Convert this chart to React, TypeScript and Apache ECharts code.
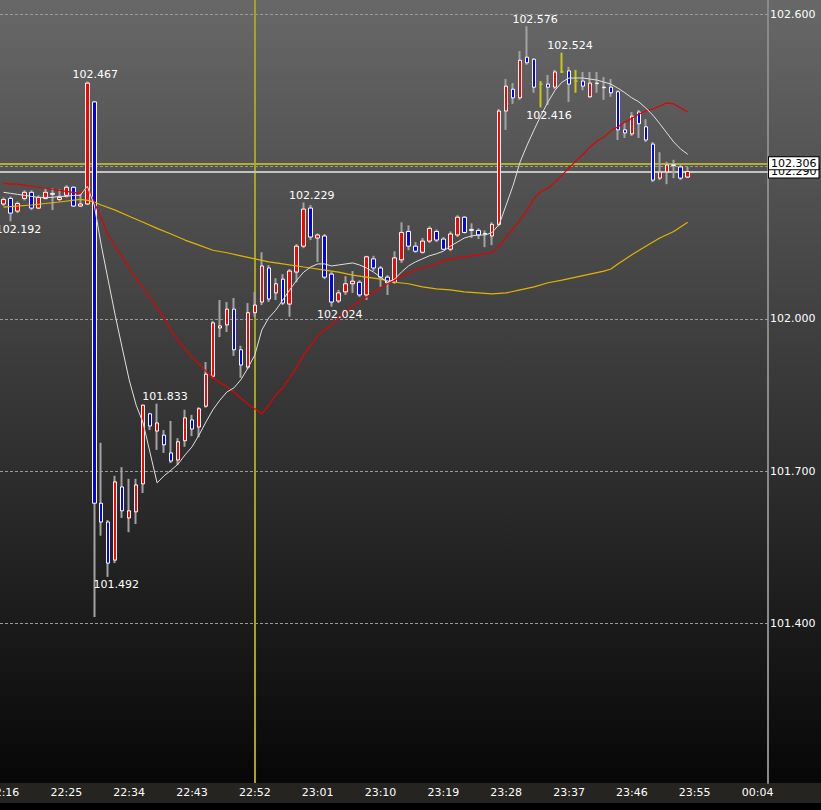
import React, { useEffect, useRef } from "react";
import * as echarts from "echarts";

// ---------- data ----------
const START_TIME = "22:16";
const CATEGORY_COUNT = 110;
const X_LABEL_STEP = 9;

const OPEN = [
  102.226, 102.237, 102.212, 102.237, 102.249, 102.218, 102.237, 102.247, 102.235, 102.243,
  102.259, 102.222, 102.226, 102.427, 101.637, 101.600, 101.525, 101.669, 101.608, 101.620,
  101.675, 101.813, 101.779, 101.771, 101.736, 101.722, 101.760, 101.801, 101.787, 101.828,
  101.887, 101.982, 101.988, 102.019, 101.939, 101.905, 102.012, 102.033, 102.100, 102.051,
  102.078, 102.029, 102.092, 102.143, 102.218, 102.159, 102.163, 102.088, 102.035, 102.053,
  102.069, 102.072, 102.047, 102.118, 102.100, 102.082, 102.072, 102.116, 102.172, 102.143,
  102.131, 102.153, 102.172, 102.157, 102.137, 102.165, 102.200, 102.176, 102.174, 102.168,
  102.163, 102.186, 102.409, 102.452, 102.435, 102.515, 102.511, 102.462, 102.462, 102.456,
  102.486, 102.488, 102.468, 102.468, 102.437, 102.464, 102.456, 102.456, 102.447, 102.372,
  102.364, 102.407, 102.378, 102.344, 102.277, 102.289, 102.303, 102.299, 102.279,
];
const CLOSE = [
  102.235, 102.208, 102.227, 102.249, 102.218, 102.239, 102.249, 102.245, 102.239, 102.259,
  102.222, 102.226, 102.464, 101.637, 101.600, 101.519, 101.679, 101.622, 101.622, 101.673,
  101.830, 101.789, 101.795, 101.752, 101.720, 101.758, 101.805, 101.783, 101.823, 101.891,
  101.992, 101.986, 102.019, 101.939, 101.909, 102.012, 102.027, 102.104, 102.039, 102.069,
  102.031, 102.094, 102.143, 102.216, 102.161, 102.165, 102.082, 102.033, 102.051, 102.069,
  102.074, 102.047, 102.122, 102.100, 102.082, 102.071, 102.120, 102.170, 102.143, 102.133,
  102.153, 102.178, 102.155, 102.137, 102.167, 102.200, 102.170, 102.174, 102.165, 102.167,
  102.186, 102.409, 102.458, 102.435, 102.509, 102.504, 102.456, 102.462, 102.456, 102.486,
  102.486, 102.462, 102.468, 102.458, 102.464, 102.463, 102.455, 102.445, 102.372, 102.366,
  102.399, 102.384, 102.352, 102.273, 102.289, 102.303, 102.302, 102.277, 102.290,
];
const LOW = [
  102.222, 102.192, 102.208, 102.233, 102.214, 102.216, 102.235, 102.214, 102.231, 102.239,
  102.220, 102.220, 102.224, 101.413, 101.573, 101.492, 101.519, 101.608, 101.580, 101.596,
  101.657, 101.781, 101.742, 101.736, 101.716, 101.712, 101.748, 101.769, 101.767, 101.825,
  101.884, 101.964, 101.974, 101.927, 101.884, 101.901, 102.004, 102.027, 102.033, 102.037,
  102.027, 102.004, 102.072, 102.139, 102.155, 102.112, 102.078, 102.024, 102.031, 102.047,
  102.051, 102.043, 102.037, 102.094, 102.063, 102.047, 102.069, 102.110, 102.135, 102.130,
  102.128, 102.149, 102.151, 102.135, 102.133, 102.161, 102.168, 102.159, 102.157, 102.141,
  102.145, 102.182, 102.372, 102.423, 102.431, 102.500, 102.445, 102.416, 102.421, 102.452,
  102.484, 102.427, 102.445, 102.450, 102.435, 102.445, 102.431, 102.437, 102.352, 102.356,
  102.360, 102.356, 102.348, 102.269, 102.273, 102.265, 102.277, 102.273, 102.277,
];
const HIGH = [
  102.239, 102.241, 102.231, 102.253, 102.253, 102.243, 102.257, 102.257, 102.255, 102.263,
  102.261, 102.247, 102.467, 102.429, 101.756, 101.604, 101.691, 101.708, 101.685, 101.685,
  101.831, 101.815, 101.833, 101.781, 101.799, 101.765, 101.821, 101.811, 101.826, 101.915,
  101.996, 102.037, 102.033, 102.041, 101.947, 102.031, 102.053, 102.131, 102.106, 102.080,
  102.088, 102.098, 102.147, 102.229, 102.224, 102.168, 102.167, 102.092, 102.057, 102.084,
  102.094, 102.076, 102.124, 102.124, 102.104, 102.086, 102.133, 102.190, 102.184, 102.151,
  102.159, 102.182, 102.176, 102.161, 102.172, 102.204, 102.202, 102.188, 102.178, 102.174,
  102.190, 102.413, 102.472, 102.464, 102.527, 102.576, 102.513, 102.468, 102.480, 102.490,
  102.524, 102.496, 102.490, 102.486, 102.486, 102.486, 102.476, 102.472, 102.450, 102.387,
  102.407, 102.411, 102.393, 102.348, 102.328, 102.309, 102.313, 102.303, 102.299,
];

// moving averages
const MA_FAST = [
  102.249, 102.247, 102.245, 102.243, 102.241, 102.239, 102.239, 102.239, 102.241, 102.241,
  102.243, 102.243, 102.261, 102.224, 102.145, 102.076, 102.007, 101.943, 101.880, 101.830,
  101.795, 101.736, 101.677, 101.691, 101.702, 101.714, 101.732, 101.748, 101.771, 101.797,
  101.821, 101.840, 101.856, 101.864, 101.880, 101.903, 101.929, 101.978, 102.002, 102.017,
  102.037, 102.057, 102.076, 102.092, 102.102, 102.108, 102.108, 102.104, 102.106, 102.108,
  102.110, 102.106, 102.100, 102.092, 102.082, 102.072, 102.078, 102.092, 102.104, 102.112,
  102.118, 102.124, 102.128, 102.133, 102.143, 102.151, 102.159, 102.163, 102.165, 102.165,
  102.170, 102.186, 102.224, 102.263, 102.309, 102.342, 102.372, 102.401, 102.427, 102.450,
  102.466, 102.474, 102.474, 102.474, 102.472, 102.470, 102.466, 102.462, 102.454, 102.445,
  102.435, 102.427, 102.415, 102.401, 102.384, 102.366, 102.348, 102.334, 102.324,
];
const MA_MID = [
  102.267, 102.265, 102.265, 102.263, 102.261, 102.259, 102.257, 102.255, 102.253, 102.251,
  102.249, 102.247, 102.259, 102.230, 102.197, 102.165, 102.143, 102.122, 102.100, 102.080,
  102.061, 102.041, 102.021, 102.002, 101.978, 101.958, 101.941, 101.925, 101.911, 101.897,
  101.884, 101.874, 101.866, 101.856, 101.844, 101.832, 101.823, 101.813, 101.830, 101.850,
  101.864, 101.884, 101.905, 101.929, 101.948, 101.966, 101.978, 101.988, 102.002, 102.013,
  102.025, 102.035, 102.043, 102.051, 102.061, 102.069, 102.076, 102.084, 102.090, 102.096,
  102.100, 102.104, 102.108, 102.114, 102.118, 102.120, 102.122, 102.124, 102.126, 102.128,
  102.131, 102.143, 102.161, 102.177, 102.195, 102.214, 102.237, 102.251, 102.257, 102.269,
  102.283, 102.297, 102.311, 102.324, 102.338, 102.350, 102.358, 102.370, 102.378, 102.387,
  102.395, 102.403, 102.409, 102.413, 102.419, 102.425, 102.423, 102.415, 102.407,
];
const MA_SLOW = [
  102.220, null, null, null, 102.224, null, null, null, 102.230, null,
  null, 102.235, 102.233, 102.230, 102.224, null, 102.214, null, 102.202, null,
  102.190, null, 102.178, null, 102.167, null, 102.155, null, 102.145, null,
  102.135, null, 102.130, null, 102.124, null, 102.118, null, 102.112, null,
  102.108, null, 102.104, null, 102.100, null, 102.096, null, 102.092, null,
  102.086, null, 102.082, null, 102.078, null, 102.072, null, 102.069, null,
  102.063, null, 102.059, null, 102.057, null, 102.053, null, 102.051, null,
  102.049, null, 102.051, null, 102.057, null, 102.063, null, 102.071, null,
  102.076, null, 102.082, null, 102.088, null, 102.094, 102.098, 102.108, null,
  102.126, null, 102.143, null, 102.159, null, 102.172, null, 102.190,
];

const Y_GRID_LEVELS = [101.4, 101.7, 102.0, 102.3, 102.6];
const Y_LABEL_VALUES = [101.4, 101.7, 102.0, 102.6];
const Y_MIN = 101.0862;
const Y_MAX = 102.6276;

const ASK_PRICE = 102.306;
const BID_PRICE = 102.29;
const CROSSHAIR_TIME = "22:52";

const HIGH_LABEL_TIMES = ["22:28", "22:38", "22:59", "23:31", "23:36"];
const LOW_LABEL_TIMES = ["22:17", "22:31", "23:03", "23:33"];

// ---------- styles ----------
const FONT = "DejaVu Sans";
const UP = "#ff0000";
const DOWN = "#0000ff";
const WICK = "#a3a3a3";
const DOJI = "#c8c814";

function buildCategories(): string[] {
  const [h, m] = START_TIME.split(":").map(Number);
  const start = h * 60 + m;
  const out: string[] = [];
  for (let i = 0; i < CATEGORY_COUNT; i++) {
    const t = (start + i) % 1440;
    out.push(String(Math.floor(t / 60)).padStart(2, "0") + ":" + String(t % 60).padStart(2, "0"));
  }
  return out;
}

export default function App() {
  const ref = useRef<HTMLDivElement>(null);

  useEffect(() => {
    if (!ref.current) return;
    const chart = echarts.init(ref.current, null, { renderer: "svg" });
    const categories = buildCategories();

    const wickData = OPEN.map((o, i) => {
      const c = CLOSE[i];
      const item: any = { value: [o, c, LOW[i], HIGH[i]] };
      if (o === c) {
        item.itemStyle = { color: DOJI, color0: DOJI, borderColor: DOJI, borderColor0: DOJI, borderColorDoji: DOJI };
      }
      return item;
    });
    const bodyData = OPEN.map((o, i) => {
      const c = CLOSE[i];
      const item: any = { value: [o, c, Math.min(o, c), Math.max(o, c)] };
      if (o === c) {
        item.itemStyle = { borderColor: DOJI, borderColor0: DOJI, borderColorDoji: DOJI };
      }
      return item;
    });

    const markPoints = [
      ...HIGH_LABEL_TIMES.map((t) => {
        const i = categories.indexOf(t);
        return { coord: [t, HIGH[i]], value: HIGH[i], label: { offset: [8, -7] } };
      }),
      ...LOW_LABEL_TIMES.map((t) => {
        const i = categories.indexOf(t);
        return { coord: [t, LOW[i]], value: LOW[i], label: { offset: [8, 8] } };
      }),
    ];

    const priceLabel = {
      show: true,
      position: "end",
      distance: 1,
      color: "#000",
      backgroundColor: "#ffffff",
      borderColor: "#000",
      borderWidth: 1,
      padding: [1, 2, 0, 2],
      fontSize: 11,
      fontFamily: FONT,
      formatter: (p: any) => Number(p.value).toFixed(3),
    };

    const option: any = {
      animation: false,
      backgroundColor: "transparent",
      grid: { left: 0, right: 53, top: 0, bottom: 27, containLabel: false, outerBoundsMode: "none" },
      xAxis: {
        type: "category",
        data: categories,
        boundaryGap: true,
        axisLine: { show: false },
        axisTick: { show: false },
        splitLine: { show: false },
        axisLabel: {
          interval: X_LABEL_STEP - 1,
          color: "#ffffff",
          fontSize: 11,
          fontFamily: FONT,
          margin: 4,
        },
      },
      yAxis: {
        type: "value",
        position: "right",
        min: Y_MIN,
        max: Y_MAX,
        splitLine: { show: false },
        axisTick: { show: false },
        axisLine: { show: true, lineStyle: { color: "#8a8a8a", width: 2 } },
        axisLabel: {
          customValues: Y_LABEL_VALUES,
          formatter: (v: number) => v.toFixed(3),
          color: "#ffffff",
          fontSize: 11,
          fontFamily: FONT,
          margin: 2,
        },
      },
      series: [
        {
          name: "wick",
          type: "candlestick",
          z: 2,
          silent: true,
          barWidth: 1,
          data: wickData,
          itemStyle: { color: WICK, color0: WICK, borderColor: WICK, borderColor0: WICK, borderWidth: 2 },
          markLine: {
            z: 1,
            silent: true,
            precision: 3,
            symbol: ["none", "none"],
            animation: false,
            label: { show: false },
            lineStyle: { color: "#9a9a9a", type: [3, 2], width: 1 },
            data: [
              ...Y_GRID_LEVELS.map((v) => ({ yAxis: v })),
              { xAxis: CROSSHAIR_TIME, lineStyle: { color: "#a4a41e", type: "solid", width: 2 } },
              {
                yAxis: BID_PRICE,
                lineStyle: { color: "#c4c4c4", type: "solid", width: 2 },
                label: priceLabel,
              },
              {
                yAxis: ASK_PRICE,
                lineStyle: { color: "#b0b02a", type: "solid", width: 2 },
                label: priceLabel,
              },
              {
                yAxis: BID_PRICE,
                lineStyle: { opacity: 0 },
                label: {
                  show: true,
                  position: "start",
                  distance: -6,
                  color: "#ffffff",
                  fontSize: 11,
                  fontFamily: FONT,
                  formatter: (p: any) => Number(p.value).toFixed(3),
                },
              },
            ],
          },
        },
        {
          name: "body",
          type: "candlestick",
          z: 3,
          silent: true,
          barWidth: 4,
          data: bodyData,
          itemStyle: {
            color: UP,
            color0: DOWN,
            borderColor: "#ffffff",
            borderColor0: "#ffffff",
            borderWidth: 1,
          },
          markPoint: {
            symbol: "circle",
            symbolSize: 1,
            itemStyle: { color: "rgba(0,0,0,0)" },
            label: {
              show: true,
              position: "inside",
              color: "#ffffff",
              fontSize: 11,
              fontFamily: FONT,
              formatter: (p: any) => Number(p.value).toFixed(3),
            },
            data: markPoints,
          },
        },
        {
          name: "MA slow",
          type: "line",
          z: 4,
          silent: true,
          data: MA_SLOW,
          connectNulls: true,
          showSymbol: false,
          symbol: "none",
          lineStyle: { color: "#e2b400", width: 1.2 },
        },
        {
          name: "MA mid",
          type: "line",
          z: 4,
          silent: true,
          data: MA_MID,
          showSymbol: false,
          symbol: "none",
          lineStyle: { color: "#e60000", width: 1.2 },
        },
        {
          name: "MA fast",
          type: "line",
          z: 4,
          silent: true,
          data: MA_FAST,
          showSymbol: false,
          symbol: "none",
          lineStyle: { color: "#e0e0e0", width: 1 },
        },
      ],
    };

    chart.setOption(option);
    return () => chart.dispose();
  }, []);

  return (
    <div
      ref={ref}
      style={{
        position: "absolute",
        left: 0,
        top: 0,
        width: 821,
        height: 810,
        background:
          "linear-gradient(to bottom, #686868 0px, #070707 783px, #262420 783px, #262420 803px, #000000 803px)",
      }}
    />
  );
}
